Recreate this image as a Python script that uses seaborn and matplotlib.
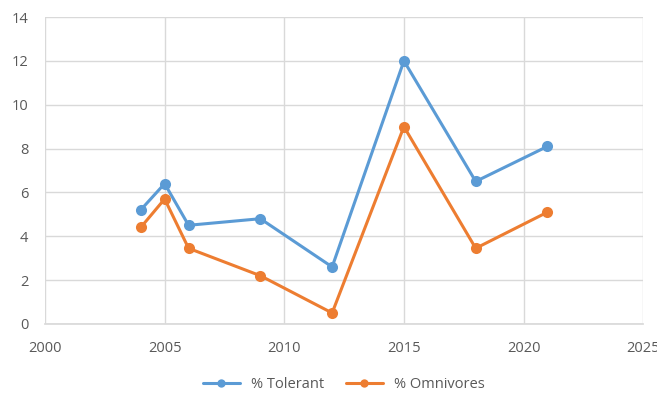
import pandas as pd
import matplotlib.pyplot as plt
import seaborn as sns

sns.set_theme(style="white")
plt.rcParams['font.family'] = ['Open Sans', 'DejaVu Sans']

# --- DATA ---
years = [2004, 2005, 2006, 2009, 2012, 2015, 2018, 2021]
tolerant = [5.2, 6.4, 4.5, 4.8, 2.6, 12.0, 6.5, 8.1]
omnivores = [4.4, 5.7, 3.45, 2.2, 0.5, 9.0, 3.45, 5.1]

df = pd.DataFrame({'Year': years, '% Tolerant': tolerant, '% Omnivores': omnivores})
df_long = df.melt(id_vars='Year', var_name='Series', value_name='Value')

fig = plt.figure(figsize=(6.57, 3.96), dpi=100)
ax = fig.add_axes([0.0685, 0.182, 0.9105, 0.775])

sns.lineplot(
    data=df_long, x='Year', y='Value', hue='Series',
    palette={'% Tolerant': '#5B9BD5', '% Omnivores': '#ED7D31'},
    marker='o', markersize=8, markeredgewidth=0, linewidth=2.2,
    ax=ax
)

ax.set_xlim(2000, 2025)
ax.set_ylim(0, 14)
ax.set_xticks(range(2000, 2026, 5))
ax.set_yticks(range(0, 15, 2))
ax.grid(True, color='#D9D9D9', linewidth=1)
ax.set_axisbelow(True)
for side in ['top', 'right', 'left']:
    ax.spines[side].set_visible(False)
ax.spines['bottom'].set_color('#D9D9D9')
ax.tick_params(axis='both', colors='#595959', labelsize=10.5, length=0)
ax.tick_params(axis='x', pad=12)
ax.tick_params(axis='y', pad=12)
ax.set_xlabel('')
ax.set_ylabel('')

ax.legend(loc='upper center', bbox_to_anchor=(0.5, -0.13), ncol=2, frameon=False,
          fontsize=10.5, labelcolor='#595959', handlelength=2.5, columnspacing=1.5,
          markerscale=0.75)

plt.savefig('out.png', dpi=100)
